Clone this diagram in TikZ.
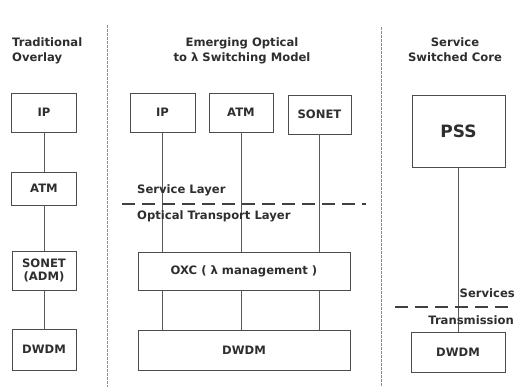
\documentclass[tikz,border=0pt]{standalone}
\usepackage{fontspec}
\setmainfont{DejaVu Sans}
\begin{document}
\begin{tikzpicture}[x=1pt,y=-1pt,
  every node/.style={font=\fontsize{11.6}{15}\selectfont\bfseries, text=black!82},
  box/.style={draw=black!70, line width=0.9pt, rectangle, inner sep=0pt},
  conn/.style={draw=black!65, line width=0.9pt},
  divider/.style={draw=black!45, line width=0.7pt, dash pattern=on 3pt off 1pt},
  layersep/.style={draw=black!75, line width=2pt, dash pattern=on 13pt off 7pt},
  lbl/.style={inner sep=0pt}]
\useasboundingbox (0,0) rectangle (524,387);
% dividers
\coordinate (d1a) at (107,25); \coordinate (d1b) at (107,387);
\coordinate (d2a) at (381,27); \coordinate (d2b) at (381,387);
\draw[divider] (d1a) -- (d1b);
\draw[divider] (d2a) -- (d2b);
% titles
\node[lbl, anchor=north west, align=left] (t1) at (12,37) {Traditional\\Overlay};
\node[lbl, anchor=north, align=center] (t2) at (242,37) {Emerging Optical\\to λ Switching Model};
\node[lbl, anchor=north, align=center] (t3) at (455,37) {Service\\Switched Core};
% left column
\node[box, minimum width=65pt, minimum height=39pt] (lip) at (44,112.5) {IP};
\node[box, minimum width=65pt, minimum height=33pt] (latm) at (44,188.5) {ATM};
\node[box, minimum width=64pt, minimum height=39pt, align=center, font=\fontsize{11.6}{13}\selectfont\bfseries] (lson) at (44,270.5) {SONET\\(ADM)};
\node[box, minimum width=64pt, minimum height=41pt] (ldw) at (44,349.5) {DWDM};
\draw[conn] (lip) -- (latm);
\draw[conn] (latm) -- (lson);
\draw[conn] (lson) -- (ldw);
% middle column
\node[box, minimum width=65pt, minimum height=39pt] (mip) at (162.5,112.5) {IP};
\node[box, minimum width=64pt, minimum height=39pt] (matm) at (241,112.5) {ATM};
\node[box, minimum width=63pt, minimum height=39pt] (mson) at (319.5,114.5) {SONET};
\node[box, minimum width=212pt, minimum height=38pt] (oxc) at (244,271) {OXC ( λ management )};
\node[box, minimum width=212pt, minimum height=40pt] (mdw) at (244,350) {DWDM};
\draw[conn] (mip.south) -- (mip.south |- oxc.north);
\draw[conn] (matm.south) -- (matm.south |- oxc.north);
\draw[conn] (mson.south) -- (mson.south |- oxc.north);
\draw[conn] (mip.south |- oxc.south) -- (mip.south |- mdw.north);
\draw[conn] (matm.south |- oxc.south) -- (matm.south |- mdw.north);
\draw[conn] (mson.south |- oxc.south) -- (mson.south |- mdw.north);
\coordinate (s1a) at (122,204); \coordinate (s1b) at (366,204);
\draw[layersep] (s1a) -- (s1b);
\node[lbl, anchor=base west] (sl) at (137,194) {Service Layer};
\node[lbl, anchor=base west] (otl) at (137,220) {Optical Transport Layer};
% right column
\node[box, minimum width=93pt, minimum height=72pt, font=\fontsize{17}{20}\selectfont\bfseries] (pss) at (458.5,131) {PSS};
\node[box, minimum width=94pt, minimum height=40pt] (rdw) at (458,352) {DWDM};
\draw[conn] (pss.south -| 458,0) -- (rdw.north -| 458,0);
\coordinate (s2a) at (395,307); \coordinate (s2b) at (514,307);
\draw[layersep] (s2a) -- (s2b);
\node[lbl, anchor=base east] (svc) at (515,297) {Services};
\node[lbl, anchor=base east] (trm) at (514,324) {Transmission};
\end{tikzpicture}
\end{document}
